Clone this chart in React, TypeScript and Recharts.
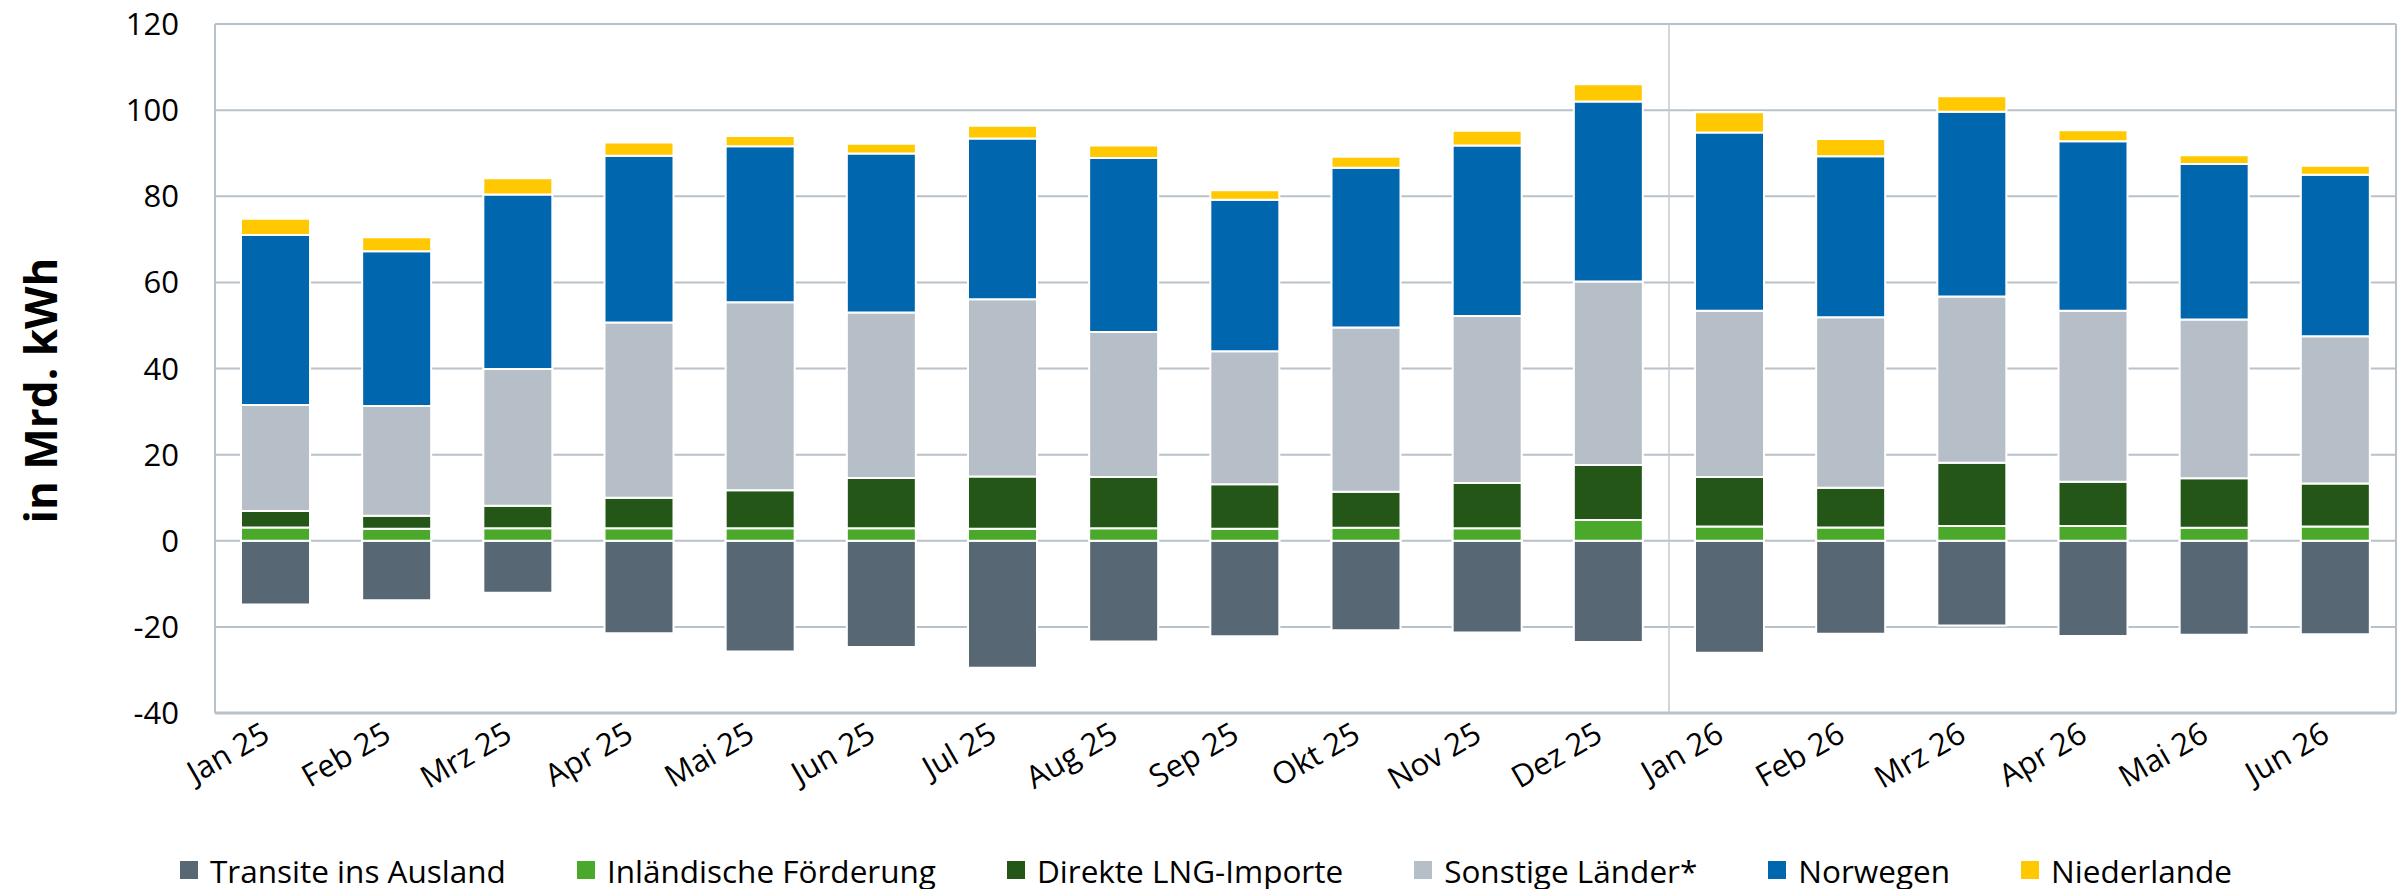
import { BarChart, Bar, XAxis, YAxis, CartesianGrid, Legend, ReferenceLine } from 'recharts';

document.body.style.margin = '0';

const months = [
  'Jan 25', 'Feb 25', 'Mrz 25', 'Apr 25', 'Mai 25', 'Jun 25', 'Jul 25', 'Aug 25', 'Sep 25',
  'Okt 25', 'Nov 25', 'Dez 25', 'Jan 26', 'Feb 26', 'Mrz 26', 'Apr 26', 'Mai 26', 'Jun 26',
];
const transit = [-14.8, -13.8, -12.1, -21.5, -25.7, -24.7, -29.5, -23.4, -22.2, -20.8, -21.3, -23.5, -26.0, -21.6, -19.7, -22.1, -21.8, -21.7];
const inland = [3.1, 2.8, 2.9, 2.9, 2.9, 2.9, 2.8, 2.9, 2.8, 3.0, 2.9, 4.8, 3.3, 3.1, 3.4, 3.4, 3.0, 3.3];
const lng = [3.8, 3.0, 5.2, 7.1, 8.8, 11.7, 12.1, 11.9, 10.3, 8.4, 10.5, 12.8, 11.5, 9.2, 14.7, 10.3, 11.5, 10.0];
const sonstige = [24.6, 25.5, 31.8, 40.7, 43.7, 38.4, 41.2, 33.7, 30.9, 38.1, 38.8, 42.6, 38.6, 39.6, 38.6, 39.7, 36.9, 34.2];
const norwegen = [39.5, 35.9, 40.5, 38.7, 36.2, 36.9, 37.3, 40.4, 35.2, 37.1, 39.6, 41.8, 41.4, 37.4, 42.9, 39.4, 36.1, 37.5];
const niederlande = [3.8, 3.3, 3.8, 3.1, 2.4, 2.3, 3.0, 2.9, 2.2, 2.6, 3.4, 4.0, 4.7, 4.0, 3.6, 2.5, 2.0, 2.1];
const yTicks = [-40, -20, 0, 20, 40, 60, 80, 100, 120];

const series = [
  { key: 'transit', name: 'Transite ins Ausland', color: '#586774' },
  { key: 'inland', name: 'Inländische Förderung', color: '#4aa82b' },
  { key: 'lng', name: 'Direkte LNG-Importe', color: '#235617' },
  { key: 'sonstige', name: 'Sonstige Länder*', color: '#b6bfc7' },
  { key: 'norwegen', name: 'Norwegen', color: '#0066ae' },
  { key: 'niederlande', name: 'Niederlande', color: '#ffc800' },
];

const data = months.map((m, i) => ({
  month: m,
  transit: transit[i],
  inland: inland[i],
  lng: lng[i],
  sonstige: sonstige[i],
  norwegen: norwegen[i],
  niederlande: niederlande[i],
}));

const FONT = '"Open Sans", sans-serif';
const GRID = '#b9c1c9';

function MonthTick({ x, y, payload }: any) {
  const tx = x - 4;
  const ty = y + 19;
  return (
    <text x={tx} y={ty} textAnchor="end" transform={`rotate(-30 ${tx} ${ty})`}
      fontFamily={FONT} fontSize={31} fill="#000">
      {payload.value}
    </text>
  );
}

function YTitle({ viewBox }: any) {
  const cx = 40;
  const cy = viewBox.y + viewBox.height / 2 + 22;
  return (
    <text x={cx} y={cy} textAnchor="middle" dominantBaseline="central"
      transform={`rotate(-90 ${cx} ${cy})`} fontFamily={FONT} fontSize={44} fontWeight={700} fill="#000">
      in Mrd. kWh
    </text>
  );
}

function LegendRow() {
  return (
    <div style={{ display: 'flex', justifyContent: 'center', gap: 71, height: 66, paddingTop: 28, paddingLeft: 16, boxSizing: 'border-box', alignItems: 'center', fontFamily: FONT, fontSize: 31.5, color: '#000' }}>
      {series.map(s => (
        <div key={s.key} style={{ display: 'flex', alignItems: 'center', gap: 12 }}>
          <span style={{ width: 18, height: 18, backgroundColor: s.color, display: 'inline-block' }} />
          <span>{s.name}</span>
        </div>
      ))}
    </div>
  );
}

export default function App() {
  return (
    <BarChart width={2404} height={889} data={data} stackOffset="sign"
      margin={{ top: 24, right: 8, left: 0, bottom: 0 }}>
      <CartesianGrid vertical={false} stroke={GRID} strokeWidth={2} />
      <XAxis dataKey="month" height={110} interval={0} tick={<MonthTick />} tickLine={false}
        axisLine={{ stroke: GRID, strokeWidth: 3 }} />
      <YAxis domain={[-40, 120]} ticks={yTicks} width={215} tickLine={false} tickSize={6} tickMargin={30}
        axisLine={{ stroke: GRID, strokeWidth: 2 }}
        tick={{ fontFamily: FONT, fontSize: 31, fill: '#000' }}
        label={{ content: <YTitle /> }} />
      <ReferenceLine x="Jan 26" position="start" stroke="#c4c8cc" strokeWidth={1.5} />
      <ReferenceLine x="Jun 26" position="end" stroke={GRID} strokeWidth={2} />
      {series.map(s => (
        <Bar key={s.key} dataKey={s.key} name={s.name} stackId="a" fill={s.color} barSize={69}
          stroke="#fff" strokeWidth={2} isAnimationActive={false} />
      ))}
      <Legend verticalAlign="bottom" height={66} content={<LegendRow />} />
    </BarChart>
  );
}
